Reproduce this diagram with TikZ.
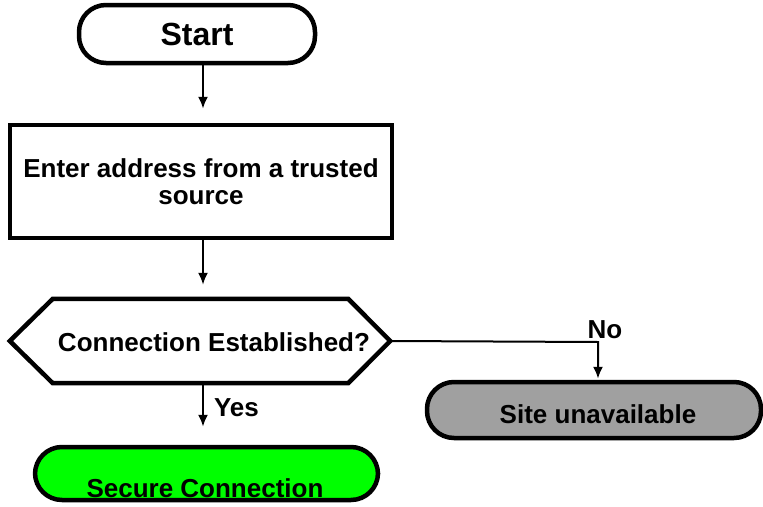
\documentclass[tikz,border=0pt]{standalone}
\usepackage{fontspec}
\setmainfont{Liberation Sans}
\usetikzlibrary{arrows.meta}
\begin{document}
\begin{tikzpicture}[x=1pt,y=-1pt,
  lbl/.style={font=\bfseries\fontsize{26}{27}\selectfont, inner sep=0pt},
  shp/.style={draw, line width=4.5pt, inner sep=0pt},
  term/.style={shp, rounded corners=27pt},
  arr/.style={line width=2pt, -{Latex[length=12pt,width=10pt]}}]
\useasboundingbox (0,0) rectangle (763,506);
% nodes
\node[term, minimum width=236pt, minimum height=58pt, lbl, font=\bfseries\fontsize{32}{34}\selectfont] (start) at (197,34) {Start};
\node[shp, minimum width=382pt, minimum height=113pt, lbl, align=center] (box) at (201,181.5) {Enter address from a trusted\\source};
\node[minimum width=380pt, minimum height=84pt, inner sep=0pt] (dec) at (200,341) {};
\draw[line width=4.5pt, line join=miter] (dec.west) -- ([xshift=43pt]dec.north west) -- ([xshift=-42pt]dec.north east) -- (dec.east) -- ([xshift=-42pt]dec.south east) -- ([xshift=43pt]dec.south west) -- cycle;
\node[lbl] (dect) at (214,342) {Connection Established?};
\node[term, fill=green, minimum width=343pt, minimum height=53pt] (secure) at (206.5,473.5) {};
\node[lbl, anchor=base] (securet) at (205,497) {Secure Connection};
\node[term, fill={rgb,255:red,160;green,160;blue,160}, minimum width=334pt, minimum height=56pt] (site) at (594,410) {};
\node[lbl, anchor=base] (sitet) at (598,423) {Site unavailable};
\coordinate (corner) at (598,342);
% connectors
\draw[arr, shorten >=14pt] ([xshift=6pt]start.south) -- ([xshift=6pt]start.south |- box.north);
\draw[arr, shorten >=14pt] ([xshift=2pt]box.south) -- ([xshift=2pt]box.south |- dec.north);
\draw[arr, shorten >=18pt] ([xshift=3pt]dec.south) -- ([xshift=3pt]dec.south |- secure.north) node[lbl, pos=0.4, right=10pt] (yes) {Yes};
\draw[arr, shorten >=1pt] (dec.east) -- (corner) -- (corner |- site.north);
\node[lbl] (no) at (605,330) {No};
\end{tikzpicture}
\end{document}
